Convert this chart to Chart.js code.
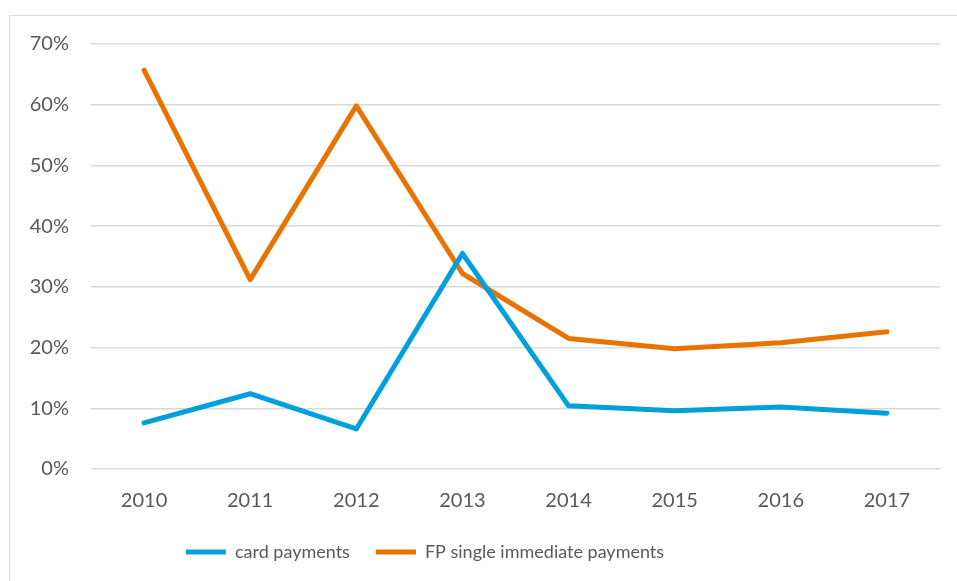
<!DOCTYPE html>
<html>
<head>
<meta charset="utf-8">
<script src="https://cdn.jsdelivr.net/npm/chart.js@4/dist/chart.umd.min.js"></script>
<style>
  html,body{margin:0;padding:0;background:#fff;overflow:hidden;}
  #wrap{position:relative;width:957px;height:581px;}
  #frame{position:absolute;left:9px;top:15px;width:990px;height:620px;border:1px solid #d9d9d9;box-sizing:border-box;}
  canvas{position:absolute;left:0;top:0;}
</style>
</head>
<body>
<div id="wrap">
  <div id="frame"></div>
  <canvas id="lineChart" width="957" height="581"></canvas>
</div>
<script>
const years=['2010','2011','2012','2013','2014','2015','2016','2017'];
const cardPayments=[7.6,12.4,6.6,35.5,10.4,9.6,10.2,9.2];
const fpPayments=[65.7,31.2,59.8,32.2,21.5,19.8,20.8,22.6];
const yTicks=[0,10,20,30,40,50,60,70];

const ctx=document.getElementById('lineChart');
const fam='Lato, "Open Sans", sans-serif';
const tickFont={family:fam,size:20};
const legendFont={family:fam,size:18};

// legend in the original sits left of centre
const shiftLegend={
  id:'shiftLegend',
  afterLayout(chart){
    chart.legend.left-=50;
    chart.legend.right-=50;
  }
};

new Chart(ctx,{
  type:'line',
  data:{
    labels:years,
    datasets:[{
      label:'card payments',
      data:cardPayments,
      borderColor:'#00a0dd',
      backgroundColor:'#00a0dd',
      borderWidth:5,
      pointRadius:0,
      borderJoinStyle:'round',
      borderCapStyle:'round',
      tension:0
    },{
      label:'FP single immediate payments',
      data:fpPayments,
      borderColor:'#e97300',
      backgroundColor:'#e97300',
      borderWidth:5,
      pointRadius:0,
      borderJoinStyle:'round',
      borderCapStyle:'round',
      tension:0
    }]
  },
  options:{
    responsive:false,
    animation:false,
    layout:{padding:{left:10,right:17,top:44,bottom:10}},
    plugins:{
      legend:{
        position:'bottom',
        labels:{
          font:legendFont,
          color:'#595959',
          usePointStyle:true,
          pointStyle:'line',
          pointStyleWidth:40,
          padding:26
        }
      },
      tooltip:{enabled:false}
    },
    scales:{
      x:{
        offset:true,
        grid:{display:false},
        border:{display:false},
        ticks:{font:tickFont,color:'#595959',padding:12},
        afterFit:s=>{s.height=48;}
      },
      y:{
        min:0,
        max:70,
        afterBuildTicks:s=>{s.ticks=yTicks.map(v=>({value:v}));},
        grid:{color:'#d9d9d9',lineWidth:1.5,drawTicks:false},
        border:{display:false},
        ticks:{font:tickFont,color:'#595959',padding:22,callback:v=>v+'%'},
        afterFit:s=>{s.width=81;}
      }
    }
  },
  plugins:[shiftLegend]
});
</script>
</body>
</html>
